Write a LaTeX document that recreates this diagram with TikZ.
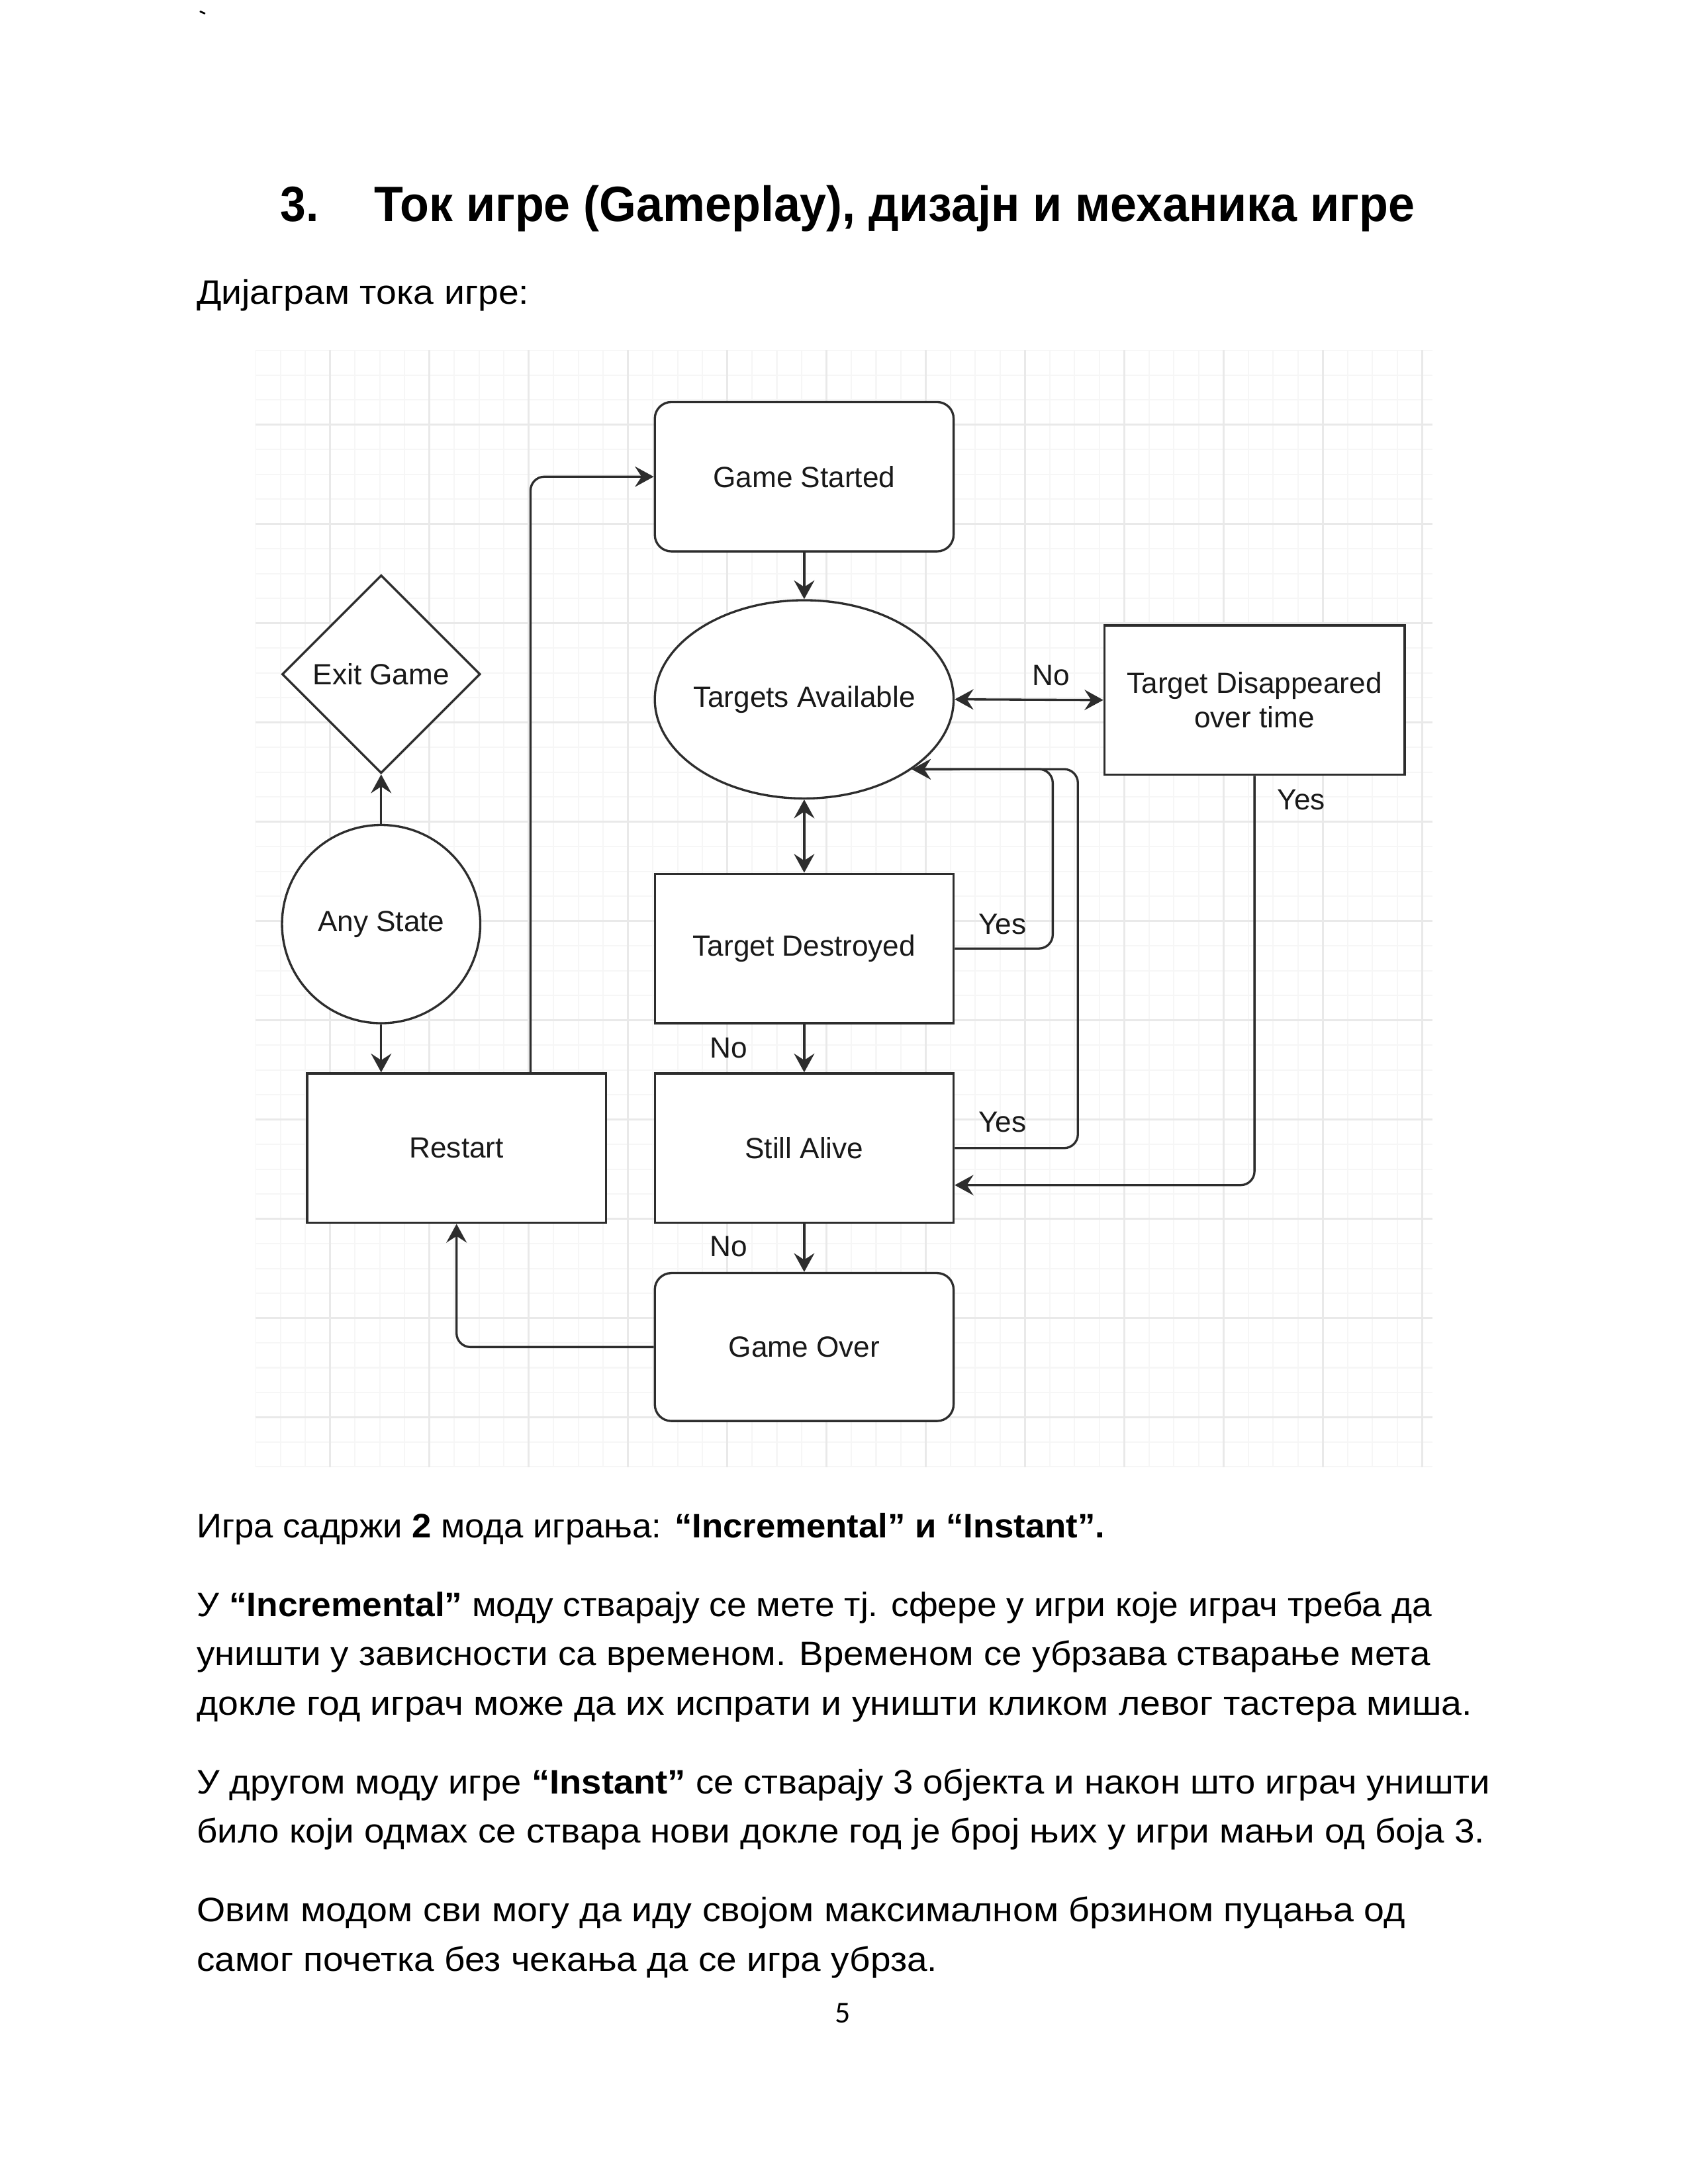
\documentclass[tikz,border=0pt]{standalone}
\usepackage{fontspec}
\setmainfont{Liberation Sans}
\newfontfamily\pagefont{Carlito}
\usetikzlibrary{shapes.geometric,arrows.meta,calc}
\newlength\fitlen
\newcommand\fitline[2]{\settowidth\fitlen{#2}\pgfmathsetmacro\fitratio{#1*0.5062/\fitlen}\scalebox{\fitratio}[1]{#2}}
\definecolor{gminor}{RGB}{246,246,246}
\definecolor{gmajor}{RGB}{233,233,233}
\definecolor{edge}{RGB}{45,45,45}
\tikzset{
  box/.style={draw=edge, line width=0.8pt, fill=white, minimum width=214*0.5062pt, minimum height=107*0.5062pt, inner sep=0pt, font=\fontsize{10.6}{12.7}\selectfont, text=black!90, align=center},
  rbox/.style={box, rounded corners=6pt},
  ellbox/.style={box, shape=ellipse, minimum width=214*0.5062pt, minimum height=142*0.5062pt},
  dia/.style={box, shape=diamond, minimum width=142*0.5062pt, minimum height=142*0.5062pt, aspect=1},
  circ/.style={box, shape=circle, minimum size=142*0.5062pt},
  arr/.style={draw=edge, line width=0.8pt, rounded corners=5pt, -{Stealth[length=6.8pt,width=7.4pt,inset=2.4pt]}},
  arrtwo/.style={draw=edge, line width=0.8pt, {Stealth[length=6.8pt,width=7.4pt,inset=2.4pt]}-{Stealth[length=6.8pt,width=7.4pt,inset=2.4pt]}},
  lbl/.style={font=\fontsize{10.6}{12.7}\selectfont, inner sep=0pt, text=black!90},
  body/.style={anchor=base west, inner sep=0pt, font=\fontsize{12.3}{15}\selectfont},
  gridminor/.style={draw=gminor, line width=0.5pt},
  gridmajor/.style={draw=gmajor, line width=0.8pt}
}
\begin{document}
\begin{tikzpicture}[x=0.5062pt, y=-0.5062pt]
\fill[white] (0,0) rectangle (1209,1564.6);
\useasboundingbox (0,0) rectangle (1209,1564.6);

% stray mark and heading
\node[anchor=base west, inner sep=0pt, font=\ttfamily\fontsize{10}{12}\selectfont] (tick) at (139.5,20) {\symbol{96}};
\node[anchor=base west, inner sep=0pt, font=\bfseries\fontsize{18}{21}\selectfont] (tnum) at (200.5,158.5) {\fitline{27.5}{3.}};
\node[anchor=base west, inner sep=0pt, font=\bfseries\fontsize{18}{21}\selectfont] (title) at (267.5,158.5) {\fitline{745.5}{Ток игре (Gameplay), дизајн и механика игре}};
\node[body] (intro) at (140.5,218) {\fitline{238}{Дијаграм тока игре:}};

% grid
\begin{scope}
\clip (183,251) rectangle (1026,1051);
\foreach \i in {0,...,48} \draw[gridminor] ({183.1+17.775*\i},251) -- ({183.1+17.775*\i},1051);
\foreach \i in {0,...,45} \draw[gridminor] (183,{251+17.775*\i}) -- (1026,{251+17.775*\i});
\foreach \i in {-1,...,11} \draw[gridmajor] ({236.4+71.1*\i},251) -- ({236.4+71.1*\i},1051);
\foreach \i in {-1,...,11} \draw[gridmajor] (183,{304.3+71.1*\i}) -- (1026,{304.3+71.1*\i});
\end{scope}

% nodes
\node[rbox] (gs) at (576,341.5) {Game Started};
\node[ellbox] (ta) at (576,501) {};
\node[lbl] (tatext) at (ta.center) {Targets Available};
\node[box, minimum width=215*0.5062pt] (tdis) at (898.5,501.5) {Target Disappeared\\over time};
\node[dia] (exit) at (273,483) {Exit Game};
\node[circ] (any) at (273,662) {Any State};
\node[box] (tdes) at (576,679.5) {Target Destroyed};
\node[box] (restart) at (327,822.5) {Restart};
\node[box] (alive) at (576,822.5) {Still Alive};
\node[rbox, minimum height=106*0.5062pt] (over) at (576,965) {Game Over};

% helper coordinates
\coordinate (k1) at (754,551);
\coordinate (k2) at (772,551);
\coordinate (k3) at (898,849);
\coordinate (k4) at (380,769);

% connectors
\draw[arr] (gs.south) -- (ta.north);
\draw[arrtwo] (ta.east) -- (tdis.west);
\draw[arrtwo] (ta.south) -- (tdes.north);
\draw[arr] (tdes.east) -| (k1) -- (ta.-33.3);
\draw[arr] (alive.east) -| (k2) -- (ta.-33.3);
\draw[arr] (tdis.south) |- (alive.east |- k3);
\draw[arr] (tdes.south) -- (alive.north);
\draw[arr] (alive.south) -- (over.north);
\draw[arr] (over.west) -| (restart.south);
\draw[arr] (k4) |- (gs.west);
\draw[arr] (any.south) -- (any.south |- restart.north);
\draw[arr] (any.north) -- (exit.south);

% labels
\node[lbl] (lno1) at (753,484) {No};
\node[lbl] (lyes1) at (932,573) {Yes};
\node[lbl] (lyes2) at (718,662) {Yes};
\node[lbl] (lyes3) at (718,804) {Yes};
\node[lbl] (lno2) at (522,751) {No};
\node[lbl] (lno3) at (522,893) {No};

% body text
\node[body] (p1) at (140.5,1101.5) {\fitline{650.5}{Игра садржи \textbf{2} мода играња: \textbf{“Incremental” и “Instant”.}}};
\node[body] (p2a) at (140.5,1158) {\fitline{884.5}{У \textbf{“Incremental”} моду стварају се мете тј. сфере у игри које играч треба да}};
\node[body] (p2b) at (140.5,1193.3) {\fitline{883.5}{уништи у зависности са временом. Временом се убрзава стварање мета}};
\node[body] (p2c) at (140.5,1228.6) {\fitline{913.5}{докле год играч може да их испрати и уништи кликом левог тастера миша.}};
\node[body] (p3a) at (140.5,1285) {\fitline{926.5}{У другом моду игре \textbf{“Instant”} се стварају 3 објекта и након што играч уништи}};
\node[body] (p3b) at (140.5,1320.3) {\fitline{922.5}{било који одмах се ствара нови докле год је број њих у игри мањи од боја 3.}};
\node[body] (p4a) at (140.5,1376.8) {\fitline{865.5}{Овим модом сви могу да иду својом максималном брзином пуцања од}};
\node[body] (p4b) at (140.5,1412) {\fitline{530.5}{самог почетка без чекања да се игра убрза.}};

\node[anchor=base, inner sep=0pt, font=\pagefont\fontsize{11}{13}\selectfont] (pg) at (603.5,1449) {5};
\end{tikzpicture}
\end{document}
